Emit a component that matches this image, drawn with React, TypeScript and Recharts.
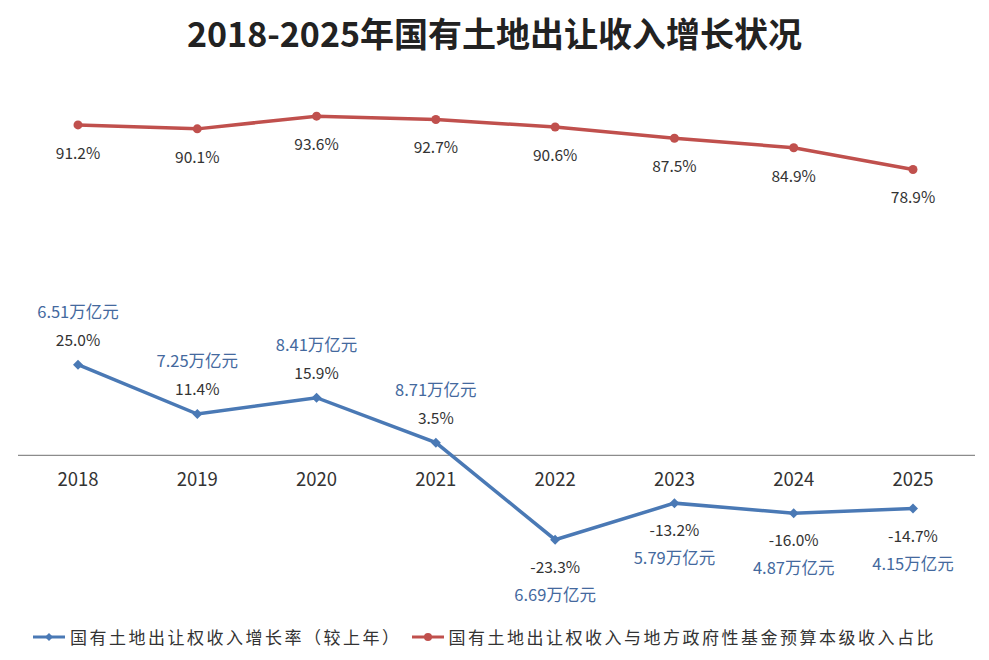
import React from 'react';
import { LineChart, Line, XAxis, YAxis, ReferenceLine, LabelList } from 'recharts';

const years = ['2018', '2019', '2020', '2021', '2022', '2023', '2024', '2025'];
// 国有土地出让权收入增长率（较上年），%
const growthRate = [25.0, 11.4, 15.9, 3.5, -23.3, -13.2, -16.0, -14.7];
// 国有土地出让权收入与地方政府性基金预算本级收入占比，%
const shareOfFund = [91.2, 90.1, 93.6, 92.7, 90.6, 87.5, 84.9, 78.9];
// 当年出让收入规模
const revenue = ['6.51万亿元', '7.25万亿元', '8.41万亿元', '8.71万亿元', '6.69万亿元', '5.79万亿元', '4.87万亿元', '4.15万亿元'];

const titleText = '2018-2025年国有土地出让收入增长状况';
const growthName = '国有土地出让权收入增长率（较上年）';
const shareName = '国有土地出让权收入与地方政府性基金预算本级收入占比';

const W = 989;
const H = 660;
const Y_MIN = -30;
const Y_MAX = 100;
const X_AXIS_H = 30;
const MARGIN = { top: 93, right: 14, bottom: 96 - X_AXIS_H, left: 18 };
const BLUE = '#4a79b5';
const RED = '#c0504d';
const FONT = '"Noto Sans CJK SC", "Noto Sans", sans-serif';

const data = years.map((year, i) => ({
  year,
  growth: growthRate[i],
  share: shareOfFund[i],
  revenue: revenue[i],
}));

// y position of the zero line, so the category labels sit right under it
const plotH = H - MARGIN.top - MARGIN.bottom - X_AXIS_H;
const zeroY = MARGIN.top + (Y_MAX / (Y_MAX - Y_MIN)) * plotH;

const YearTick = (props: any) => {
  const { x, payload } = props;
  return (
    <text x={x} y={zeroY + 23} textAnchor="middle" dominantBaseline="central"
      fill="#333" fontSize={18.5} fontFamily={FONT}>
      {payload.value}
    </text>
  );
};

const Diamond = (props: any) => {
  const { cx, cy, index } = props;
  if (cx == null || cy == null) return null;
  const r = 5;
  return (
    <polygon key={`d-${index}`} points={`${cx},${cy - r} ${cx + r},${cy} ${cx},${cy + r} ${cx - r},${cy}`} fill={BLUE} />
  );
};

const ShareLabel = (props: any) => {
  const { x, y, value } = props;
  return (
    <text x={x} y={y + 27} textAnchor="middle" dominantBaseline="central"
      fill="#333" fontSize={15.5} fontFamily={FONT}>
      {`${Number(value).toFixed(1)}%`}
    </text>
  );
};

const GrowthLabel = (props: any) => {
  const { x, y, value, index } = props;
  const sign = value >= 0 ? -1 : 1;
  return (
    <g>
      <text x={x} y={y + sign * 26} textAnchor="middle" dominantBaseline="central"
        fill="#333" fontSize={15.5} fontFamily={FONT}>
        {`${Number(value).toFixed(1)}%`}
      </text>
      <text x={x} y={y + sign * 54} textAnchor="middle" dominantBaseline="central"
        fill="#44699e" fontSize={16.5} fontFamily={FONT}>
        {revenue[index]}
      </text>
    </g>
  );
};

const LegendItem = ({ color, label, diamond }: { color: string; label: string; diamond: boolean }) => (
  <div style={{ display: 'flex', alignItems: 'center', marginRight: 10 }}>
    <svg width={32} height={12} style={{ marginRight: 5 }}>
      <line x1={0} y1={6} x2={32} y2={6} stroke={color} strokeWidth={3} />
      {diamond
        ? <polygon points="16,2 20,6 16,10 12,6" fill={color} />
        : <circle cx={16} cy={6} r={4} fill={color} />}
    </svg>
    <span style={{ fontSize: 17, letterSpacing: 2.5, color: '#333' }}>{label}</span>
  </div>
);

export default function App() {
  return (
    <div style={{ position: 'absolute', left: 0, top: 0, width: W, height: H, background: '#fff', fontFamily: FONT }}>
      <div style={{ position: 'absolute', top: 8, left: 0, width: W, textAlign: 'center', fontSize: 34, fontWeight: 700, color: '#222' }}>
        {titleText}
      </div>
      <LineChart width={W} height={H} data={data} margin={MARGIN}>
        <XAxis dataKey="year" height={X_AXIS_H} axisLine={false} tickLine={false}
          padding={{ left: 60, right: 62 }} tick={<YearTick />} interval={0} />
        <YAxis hide domain={[Y_MIN, Y_MAX]} type="number" allowDataOverflow />
        <ReferenceLine y={0} stroke="#8c8c8c" strokeWidth={1.2} />
        <Line dataKey="share" stroke={RED} strokeWidth={3.5} isAnimationActive={false}
          dot={{ r: 4.5, fill: RED, stroke: RED, strokeWidth: 0 }} activeDot={false}>
          <LabelList dataKey="share" content={<ShareLabel />} />
        </Line>
        <Line dataKey="growth" stroke={BLUE} strokeWidth={3.5} isAnimationActive={false}
          dot={<Diamond />} activeDot={false}>
          <LabelList dataKey="growth" content={<GrowthLabel />} />
        </Line>
      </LineChart>
      <div style={{ position: 'absolute', top: 624, left: 33, display: 'flex', alignItems: 'center' }}>
        <LegendItem color={BLUE} label={growthName} diamond />
        <LegendItem color={RED} label={shareName} diamond={false} />
      </div>
    </div>
  );
}
